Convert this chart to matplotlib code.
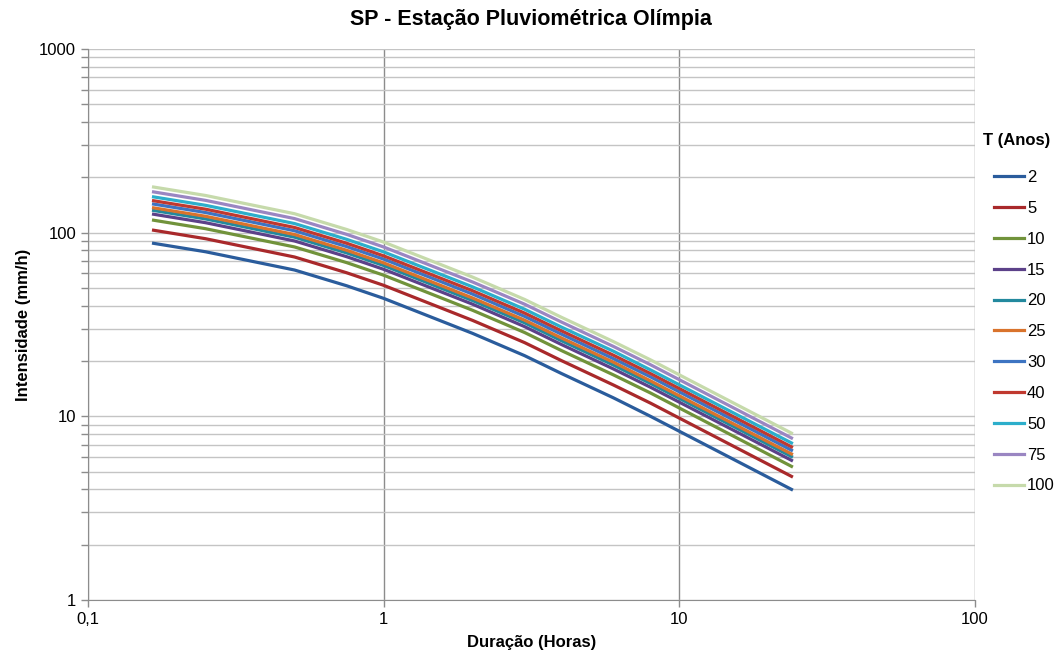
import numpy as np
import matplotlib
matplotlib.use("Agg")
import matplotlib.pyplot as plt
from matplotlib.ticker import FixedLocator, NullFormatter

plt.rcParams["font.family"] = ["Liberation Sans", "DejaVu Sans"]

# Durações (horas) e intensidades (mm/h)
duracao = [0.1667, 0.25, 0.5, 0.75, 1, 2, 3, 4, 6, 8, 24]

t2   = [87.5, 78.7, 62.6, 51.4, 43.9, 28.3, 21.4, 17.1, 12.6, 10.0, 4.0]
t5   = [103.1, 92.7, 73.7, 60.5, 51.7, 33.3, 25.2, 20.1, 14.8, 11.8, 4.71]
t10  = [116.9, 105.1, 83.6, 68.7, 58.7, 37.8, 28.6, 22.8, 16.8, 13.4, 5.34]
t15  = [126.0, 113.3, 90.1, 74.0, 63.2, 40.8, 30.8, 24.6, 18.1, 14.4, 5.76]
t20  = [132.1, 118.8, 94.5, 77.6, 66.3, 42.7, 32.3, 25.8, 19.0, 15.1, 6.04]
t25  = [136.5, 122.8, 97.7, 80.2, 68.5, 44.1, 33.4, 26.7, 19.7, 15.6, 6.24]
t30  = [143.1, 128.7, 102.4, 84.0, 71.8, 46.3, 35.0, 28.0, 20.6, 16.4, 6.54]
t40  = [149.2, 134.2, 106.7, 87.6, 74.8, 48.3, 36.5, 29.2, 21.5, 17.1, 6.82]
t50  = [156.6, 140.9, 112.1, 92.0, 78.6, 50.7, 38.3, 30.6, 22.6, 17.9, 7.16]
t75  = [166.7, 149.9, 119.3, 97.9, 83.6, 53.9, 40.8, 32.6, 24.0, 19.1, 7.62]
t100 = [177.2, 159.4, 126.8, 104.1, 88.9, 57.3, 43.3, 34.6, 25.5, 20.3, 8.10]

series = [("2", t2), ("5", t5), ("10", t10), ("15", t15), ("20", t20), ("25", t25),
          ("30", t30), ("40", t40), ("50", t50), ("75", t75), ("100", t100)]
cores = ["#2a5c9c", "#a9292b", "#71933b", "#5c4189", "#23899e", "#d9732c",
         "#3d74c2", "#c0392f", "#2caecb", "#9a86c2", "#c6daab"]

x_ticks = [0.1, 1, 10, 100]
x_labels = ["0,1", "1", "10", "100"]
y_ticks = [1, 10, 100, 1000]
y_labels = ["1", "10", "100", "1000"]

fig = plt.figure(figsize=(10.56, 6.57), dpi=100)
ax = fig.add_axes([0.0833, 0.0868, 0.8397, 0.8386])

for (nome, vals), cor in zip(series, cores):
    ax.plot(duracao, vals, color=cor, linewidth=2.3, label=nome, zorder=3)

ax.set_xscale("log")
ax.set_yscale("log")
ax.set_xlim(0.1, 100)
ax.set_ylim(1, 1000)

ax.xaxis.set_major_locator(FixedLocator(x_ticks))
ax.set_xticklabels(x_labels)
ax.xaxis.set_minor_locator(FixedLocator([]))
ax.yaxis.set_major_locator(FixedLocator(y_ticks))
ax.set_yticklabels(y_labels)
ax.yaxis.set_minor_locator(FixedLocator([m * 10**e for e in range(0, 3) for m in range(2, 10)]))
ax.yaxis.set_minor_formatter(NullFormatter())

ax.grid(True, axis="x", which="major", color="#8c8c8c", linewidth=1.0, zorder=1)
ax.grid(True, axis="y", which="both", color="#c4c4c4", linewidth=1.0, zorder=1)

ax.tick_params(axis="both", which="major", labelsize=12, length=5, color="#8c8c8c", width=1)
ax.tick_params(axis="y", which="minor", length=5, color="#8c8c8c", width=1)
for lado in ["left", "bottom"]:
    ax.spines[lado].set_color("#8c8c8c")
for lado in ["top", "right"]:
    ax.spines[lado].set_visible(False)

ax.set_title("SP - Estação Pluviométrica Olímpia", fontsize=15.5, fontweight="bold", pad=17)
ax.set_xlabel("Duração (Horas)", fontsize=12, fontweight="bold", labelpad=6)
ax.set_ylabel("Intensidade (mm/h)", fontsize=12, fontweight="bold", labelpad=6)

fig.text(1017 / 1056, 1 - 141 / 657, "T (Anos)", fontsize=12, fontweight="bold",
         ha="center", va="center")
fig.legend(loc="upper left", bbox_to_anchor=(0.941, 0.741), frameon=False,
           fontsize=12, handlelength=1.8, handletextpad=0.2, labelspacing=0.95,
           borderaxespad=0, borderpad=0)

plt.savefig("out.png", dpi=100)
plt.close()
